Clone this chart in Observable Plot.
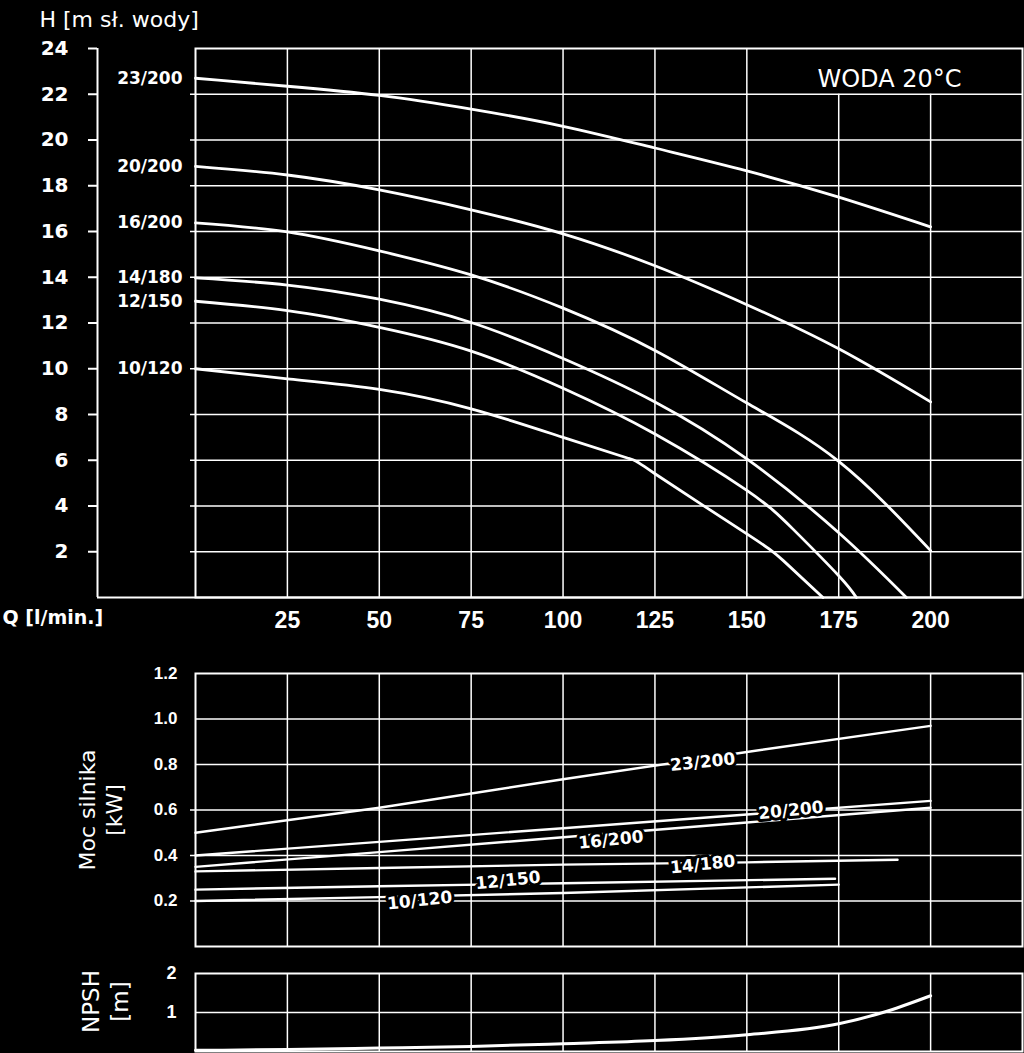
<!DOCTYPE html>
<html><head><meta charset="utf-8">
<script src="https://cdn.jsdelivr.net/npm/d3@7"></script>
<script src="https://cdn.jsdelivr.net/npm/@observablehq/plot@0.6"></script>
<style>
html,body{margin:0;padding:0;background:#000;}
#chart{width:1024px;height:1053px;background:#000;overflow:hidden}
#chart svg{display:block}
</style></head><body><div id="chart"></div>
<script>
// ---------- DATA ----------
const models = ["23/200","20/200","16/200","14/180","12/150","10/120"];

// Head curves H [m] vs Q [l/min]
const q23 = [0,25,50,75,100,125,150,175,200];
const h23 = [22.7,22.35,21.95,21.35,20.6,19.65,18.65,17.5,16.2];
const q20 = [0,25,50,75,100,125,150,175,200];
const h20 = [18.85,18.47,17.82,16.95,15.9,14.5,12.8,10.87,8.55];
const q16 = [0,25,50,75,100,125,150,175,200];
const h16 = [16.38,15.98,15.15,14.1,12.65,10.8,8.5,5.95,2.05];
const q14 = [0,25,50,75,100,125,150,175,193.4];
const h14 = [13.97,13.66,13.04,12.02,10.45,8.55,6.06,2.83,0];
const q12 = [0,25,50,75,100,125,150,162.5,175,179.8];
const h12 = [12.95,12.54,11.81,10.77,9.15,7.15,4.68,3.0,0.95,0];
const q10 = [0,25,50,75,100,117.5,125,150,160,170.7];
const h10 = [10.0,9.56,9.1,8.25,7.0,6.1,5.41,2.78,1.6,0];

// Motor power P [kW] vs Q
const qp23 = [0,50,100,150,200];  const p23 = [0.50,0.61,0.735,0.855,0.97];
const qp20 = [0,50,100,150,200];  const p20 = [0.40,0.46,0.52,0.58,0.64];
const qp16 = [0,50,100,150,200];  const p16 = [0.35,0.415,0.48,0.545,0.61];
const qp14 = [0,50,100,150,191];  const p14 = [0.33,0.345,0.36,0.37,0.381];
const qp12 = [0,50,100,174];      const p12 = [0.25,0.265,0.278,0.298];
const qp10 = [0,50,100,175];      const p10 = [0.20,0.217,0.235,0.272];
// power curve label anchor points
const powerLabelQ = [138,162,113,138,85,61];
const powerLabelP = [0.81,0.598,0.468,0.36,0.29,0.202];

// NPSH [m] vs Q
const qNpsh = [0,25,50,75,100,125,150,175,187,200];
const npsh  = [0.03,0.05,0.09,0.13,0.2,0.28,0.43,0.71,1.0,1.43];

// ticks
const qTicks = [25,50,75,100,125,150,175,200];
const hTicks = [2,4,6,8,10,12,14,16,18,20,22,24];
const pTicks = [0.2,0.4,0.6,0.8,1.0,1.2];
const nTicks = [1,2];

// text
const hTitle = "H [m sł. wody]";
const qTitle = "Q [l/min.]";
const waterNote = "WODA 20°C";
const pTitle = "Moc silnika\n[kW]";
const nTitle = "NPSH\n[m]";

// ---------- BUILD ----------
const headQ = [q23,q20,q16,q14,q12,q10], headH = [h23,h20,h16,h14,h12,h10];
const headData = models.flatMap((m,i)=>headQ[i].map((q,j)=>({model:m,q,h:headH[i][j]})));
const powQ = [qp23,qp20,qp16,qp14,qp12,qp10], powP = [p23,p20,p16,p14,p12,p10];
const powData = models.flatMap((m,i)=>powQ[i].map((q,j)=>({model:m,q,p:powP[i][j]})));
const powLabels = models.map((m,i)=>({model:m,q:powerLabelQ[i],p:powerLabelP[i]}));
const npshData = qNpsh.map((q,i)=>({q,v:npsh[i]}));

const W = 1024, ML = 195, MR = 2;
const xDomain = [0,225];
const baseStyle = {background:"black", color:"white", overflow:"visible"};
const G = {stroke:"white", strokeWidth:1.5};
const TECH = "DejaVu Sans";
const SANS = "DejaVu Sans";
const NUM = "Liberation Sans";

const headPlot = Plot.plot({
  width: W, height: 640, marginLeft: ML, marginRight: MR, marginTop: 48, marginBottom: 43,
  style: baseStyle,
  x: {domain: xDomain, axis: null},
  y: {domain: [0,24], axis: null},
  marks: [
    Plot.ruleY(hTicks.filter(d => d < 24), {...G, insetLeft: -5}),
    Plot.ruleX(qTicks, {...G, y1: 0, y2: d => d > 150 ? 22 : 24}),
    Plot.frame({stroke:"white", strokeWidth: 2}),
    Plot.ruleX([0], {y1: 0, y2: 24, dx: -98, stroke:"white", strokeWidth: 2}),
    Plot.ruleY([0], {insetLeft: -98, stroke:"white", strokeWidth: 2}),
    Plot.axisY(hTicks, {anchor:"left", dx: -98, tickSize: 9, tickPadding: 20, strokeWidth: 2,
      fontSize: 20, fontWeight: "bold", fontFamily: TECH, label: null}),
    Plot.axisX(qTicks, {anchor:"bottom", tickSize: 0, tickPadding: 14,
      fontSize: 23, fontWeight: "bold", fontFamily: "Liberation Sans Narrow, Liberation Sans, sans-serif", label: null}),
    Plot.line(headData, {x:"q", y:"h", z:"model", stroke:"white", strokeWidth: 2.8, curve:"natural"}),
    Plot.text(headData.filter(d => d.q === 0), {x:"q", y:"h", text:"model", textAnchor:"end", dx: -13,
      fill:"white", fontSize: 17, fontWeight:"bold", fontFamily: TECH}),
    Plot.text([hTitle], {text: d => d, frameAnchor:"top-left", textAnchor:"start", dx: -156, dy: -37,
      fill:"white", fontSize: 22, fontFamily: SANS}),
    Plot.text([qTitle], {text: d => d, frameAnchor:"bottom-left", textAnchor:"start", lineAnchor:"top", dx: -193, dy: 13,
      fill:"white", fontSize: 19, fontWeight:"bold", fontFamily: TECH}),
    Plot.text([waterNote], {text: d => d, frameAnchor:"top-right", textAnchor:"middle", dx: -133, dy: 21,
      fill:"white", fontSize: 24, fontFamily: SANS})
  ]
});

const powerPlot = Plot.plot({
  width: W, height: 315, marginLeft: ML, marginRight: MR, marginTop: 33, marginBottom: 9,
  style: baseStyle,
  x: {domain: xDomain, axis: null},
  y: {domain: [0,1.2], axis: null},
  marks: [
    Plot.ruleY(pTicks.filter(d => d < 0.7), {...G, insetLeft: -5}),
    Plot.ruleY(pTicks.filter(d => d > 0.7 && d < 1.1), G),
    Plot.ruleX(qTicks, {...G, y1: 0, y2: 1.2}),
    Plot.frame({stroke:"white", strokeWidth: 2}),
    Plot.line(powData, {x:"q", y:"p", z:"model", stroke:"white", strokeWidth: 2.4}),
    Plot.text(powLabels, {x:"q", y:"p", text:"model", rotate: -6, fill:"white", stroke:"black", strokeWidth: 6,
      fontSize: 17, fontWeight:"bold", fontFamily: TECH}),
    Plot.axisY(pTicks, {anchor:"left", tickSize: 0, tickPadding: 18, tickFormat: ".1f",
      fontSize: 17, fontWeight:"bold", fontFamily: NUM, label: null}),
    Plot.text([pTitle], {text: d => d, frameAnchor:"left", dx: -96, rotate: -90, textAnchor:"middle",
      lineHeight: 1.25, fill:"white", fontSize: 22, fontFamily: SANS})
  ]
});

const npshPlot = Plot.plot({
  width: W, height: 98, marginLeft: ML, marginRight: MR, marginTop: 18, marginBottom: 2,
  style: baseStyle,
  x: {domain: xDomain, axis: null},
  y: {domain: [0,2], axis: null},
  marks: [
    Plot.ruleY([1], G),
    Plot.ruleX(qTicks, {...G, y1: 0, y2: 2}),
    Plot.frame({stroke:"white", strokeWidth: 2}),
    Plot.line(npshData, {x:"q", y:"v", stroke:"white", strokeWidth: 3, curve:"monotone-x"}),
    Plot.axisY(nTicks, {anchor:"left", tickSize: 0, tickPadding: 19,
      fontSize: 18, fontWeight:"bold", fontFamily: NUM, label: null}),
    Plot.text([nTitle], {text: d => d, frameAnchor:"left", dx: -91, dy: -11, rotate: -90, textAnchor:"middle",
      lineHeight: 1.26, fill:"white", fontSize: 23, fontFamily: SANS})
  ]
});

document.getElementById("chart").append(headPlot, powerPlot, npshPlot);
</script></body></html>
